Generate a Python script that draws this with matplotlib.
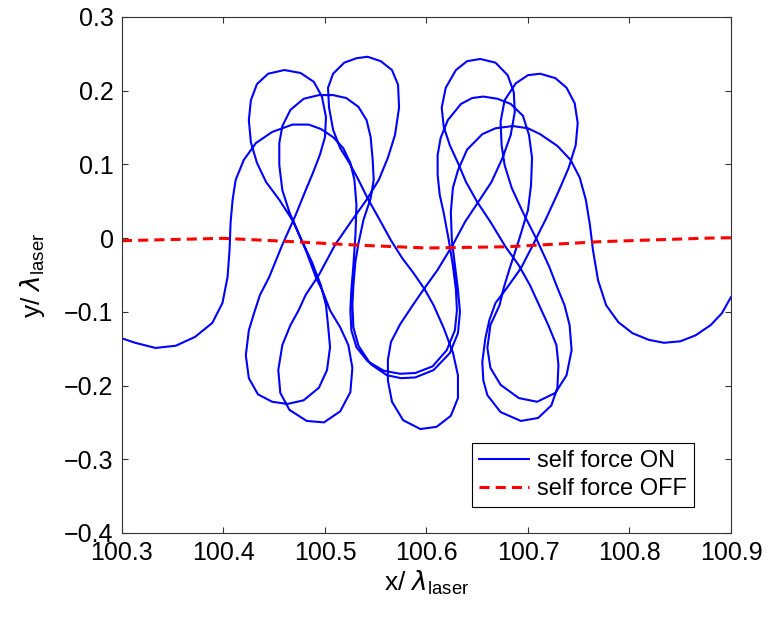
import matplotlib
matplotlib.use("Agg")
import matplotlib.pyplot as plt

plt.rcParams['font.family'] = ['Liberation Sans', 'DejaVu Sans']
plt.rcParams['mathtext.fontset'] = 'dejavusans'

# electron trajectory with the self force switched on (x, y in laser wavelengths)
on_x = [100.300, 100.313, 100.333, 100.353, 100.372, 100.389, 100.399, 100.404, 100.406, 100.407,
        100.409, 100.412, 100.420, 100.432, 100.448, 100.468, 100.484, 100.496, 100.508, 100.518,
        100.525, 100.529, 100.531, 100.530, 100.528, 100.526, 100.525, 100.526, 100.531, 100.542,
        100.558, 100.574, 100.589, 100.606, 100.620, 100.628, 100.630, 100.629, 100.626, 100.622,
        100.617, 100.613, 100.611, 100.611, 100.614, 100.621, 100.634, 100.645, 100.656, 100.670,
        100.683, 100.695, 100.701, 100.704, 100.703, 100.700, 100.691, 100.682, 100.676, 100.672,
        100.663, 100.660, 100.663, 100.673, 100.691, 100.709, 100.727, 100.738, 100.743, 100.741,
        100.736, 100.728, 100.721, 100.709, 100.695, 100.684, 100.677, 100.674, 100.673, 100.677,
        100.688, 100.700, 100.712, 100.727, 100.738, 100.746, 100.749, 100.747, 100.740, 100.730,
        100.718, 100.705, 100.693, 100.679, 100.668, 100.662, 100.658, 100.655, 100.656, 100.660,
        100.673, 100.693, 100.710, 100.723, 100.729, 100.730, 100.728, 100.720, 100.711, 100.702,
        100.691, 100.678, 100.663, 100.650, 100.639, 100.631, 100.623, 100.617, 100.615, 100.619,
        100.629, 100.640, 100.653, 100.668, 100.680, 100.686, 100.687, 100.683, 100.675, 100.664,
        100.651, 100.638, 100.626, 100.611, 100.597, 100.586, 100.574, 100.565, 100.562, 100.562,
        100.566, 100.577, 100.594, 100.610, 100.624, 100.631, 100.631, 100.626, 100.617, 100.607,
        100.598, 100.587, 100.576, 100.565, 100.553, 100.542, 100.533, 100.524, 100.515, 100.508,
        100.504, 100.503, 100.508, 100.519, 100.531, 100.542, 100.555, 100.566, 100.572, 100.573,
        100.569, 100.562, 100.553, 100.541, 100.525, 100.510, 100.494, 100.481, 100.474, 100.466,
        100.458, 100.454, 100.456, 100.465, 100.482, 100.499, 100.515, 100.525, 100.527, 100.523,
        100.515, 100.505, 100.498, 100.491, 100.481, 100.469, 100.455, 100.442, 100.433, 100.427,
        100.425, 100.427, 100.433, 100.444, 100.460, 100.476, 100.489, 100.497, 100.501, 100.500,
        100.495, 100.488, 100.481, 100.471, 100.458, 100.445, 100.436, 100.431, 100.425, 100.422,
        100.425, 100.434, 100.448, 100.463, 100.479, 100.494, 100.502, 100.505, 100.503, 100.501,
        100.496, 100.487, 100.476, 100.465, 100.458, 100.455, 100.455, 100.458, 100.466, 100.479,
        100.494, 100.508, 100.521, 100.533, 100.541, 100.545, 100.547, 100.548, 100.545, 100.538,
        100.533, 100.530, 100.528, 100.527, 100.528, 100.533, 100.545, 100.561, 100.575, 100.589,
        100.607, 100.623, 100.631, 100.633, 100.631, 100.628, 100.625, 100.624, 100.626, 100.631,
        100.640, 100.655, 100.668, 100.685, 100.700, 100.712, 100.729, 100.742, 100.751, 100.757,
        100.761, 100.764, 100.769, 100.777, 100.789, 100.803, 100.819, 100.834, 100.850, 100.865,
        100.880, 100.891, 100.900]
on_y = [-0.136, -0.142, -0.149, -0.146, -0.134, -0.115, -0.088, -0.053, -0.016, 0.021,
        0.052, 0.079, 0.106, 0.129, 0.144, 0.154, 0.154, 0.148, 0.137, 0.122,
        0.102, 0.079, 0.045, 0.004, -0.037, -0.070, -0.098, -0.125, -0.148, -0.167,
        -0.180, -0.184, -0.183, -0.174, -0.152, -0.125, -0.098, -0.070, -0.037, -0.003,
        0.034, 0.059, 0.086, 0.113, 0.136, 0.160, 0.182, 0.190, 0.192, 0.189,
        0.182, 0.166, 0.140, 0.109, 0.072, 0.038, -0.003, -0.041, -0.068, -0.091,
        -0.118, -0.149, -0.176, -0.199, -0.217, -0.222, -0.210, -0.186, -0.152, -0.118,
        -0.091, -0.064, -0.039, -0.003, 0.035, 0.068, 0.099, 0.126, 0.158, 0.187,
        0.210, 0.221, 0.223, 0.217, 0.204, 0.183, 0.156, 0.126, 0.095, 0.063,
        0.027, -0.009, -0.041, -0.068, -0.088, -0.111, -0.136, -0.168, -0.193, -0.213,
        -0.236, -0.248, -0.244, -0.227, -0.203, -0.172, -0.145, -0.118, -0.091, -0.064,
        -0.037, -0.012, 0.022, 0.049, 0.076, 0.102, 0.126, 0.151, 0.177, 0.204,
        0.228, 0.240, 0.243, 0.238, 0.221, 0.198, 0.171, 0.140, 0.109, 0.076,
        0.049, 0.022, -0.009, -0.043, -0.070, -0.092, -0.117, -0.141, -0.165, -0.193,
        -0.222, -0.247, -0.259, -0.256, -0.241, -0.217, -0.186, -0.155, -0.122, -0.091,
        -0.069, -0.047, -0.027, -0.003, 0.027, 0.054, 0.079, 0.102, 0.122, 0.147,
        0.177, 0.204, 0.223, 0.238, 0.244, 0.246, 0.240, 0.228, 0.208, 0.177,
        0.140, 0.109, 0.079, 0.052, 0.021, -0.009, -0.050, -0.077, -0.098, -0.118,
        -0.145, -0.179, -0.210, -0.233, -0.248, -0.250, -0.235, -0.209, -0.176, -0.145,
        -0.121, -0.098, -0.073, -0.053, -0.016, 0.022, 0.052, 0.076, 0.102, 0.130,
        0.160, 0.187, 0.209, 0.223, 0.228, 0.224, 0.212, 0.192, 0.164, 0.137,
        0.113, 0.088, 0.065, 0.031, -0.009, -0.053, -0.077, -0.098, -0.125, -0.159,
        -0.190, -0.212, -0.222, -0.225, -0.220, -0.203, -0.179, -0.148, -0.118, -0.091,
        -0.064, -0.032, 0.000, 0.035, 0.065, 0.099, 0.129, 0.152, 0.174, 0.189,
        0.194, 0.194, 0.190, 0.178, 0.160, 0.137, 0.106, 0.079, 0.054, 0.025,
        -0.007, -0.032, -0.064, -0.091, -0.121, -0.146, -0.171, -0.186, -0.190, -0.189,
        -0.179, -0.156, -0.129, -0.100, -0.070, -0.037, -0.003, 0.035, 0.068, 0.092,
        0.120, 0.141, 0.149, 0.152, 0.149, 0.141, 0.125, 0.106, 0.082, 0.052,
        0.018, -0.016, -0.057, -0.091, -0.114, -0.129, -0.138, -0.142, -0.140, -0.132,
        -0.118, -0.102, -0.080]

# same particle with the self force switched off
off_x = [100.30, 100.40, 100.47, 100.53, 100.60, 100.62, 100.68, 100.73, 100.77, 100.82, 100.88, 100.90]
off_y = [-0.0035, -0.0003, -0.0049, -0.0094, -0.0134, -0.0130, -0.0117, -0.0080, -0.0049, -0.0026, 0.0001, 0.0005]

x_ticks = [100.3, 100.4, 100.5, 100.6, 100.7, 100.8, 100.9]
x_tick_labels = ['100.3', '100.4', '100.5', '100.6', '100.7', '100.8', '100.9']
y_ticks = [0.3, 0.2, 0.1, 0.0, -0.1, -0.2, -0.3, -0.4]
y_tick_labels = ['0.3', '0.2', '0.1', '0', '\u22120.1', '\u22120.2', '\u22120.3', '\u22120.4']

fig = plt.figure(figsize=(7.71, 6.28), dpi=100)
ax = fig.add_axes([0.1582, 0.1513, 0.7899, 0.8217])

ax.plot(on_x, on_y, color='#0000ff', lw=1.5, label='self force ON')
ax.plot(off_x, off_y, color='#ff0000', lw=2.2, ls=(0, (3.3, 2.0)), label='self force OFF')

ax.set_xlim(100.3, 100.9)
ax.set_ylim(-0.4, 0.3)
ax.set_xticks(x_ticks)
ax.set_xticklabels(x_tick_labels)
ax.set_yticks(y_ticks)
ax.set_yticklabels(y_tick_labels)
ax.tick_params(direction='in', length=4.5, width=0.8, colors='#333333',
               labelcolor='black', labelsize=18, top=True, right=True, pad=6)
for sp in ax.spines.values():
    sp.set_color('#333333')
    sp.set_linewidth(0.8)

ax.set_xlabel(r'x/ $\lambda_{\mathregular{laser}}$', fontsize=19, labelpad=2)
ax.set_ylabel(r'y/ $\lambda_{\mathregular{laser}}$', fontsize=19, labelpad=12)

leg = ax.legend(loc='upper left', bbox_to_anchor=(0.575, 0.174), fontsize=17,
                frameon=True, fancybox=False, edgecolor='black', framealpha=1,
                borderaxespad=0, handlelength=2.1, borderpad=0.3, labelspacing=0.25,
                handletextpad=0.35)
leg.get_frame().set_linewidth(0.8)

fig.savefig('out.png', dpi=100)
